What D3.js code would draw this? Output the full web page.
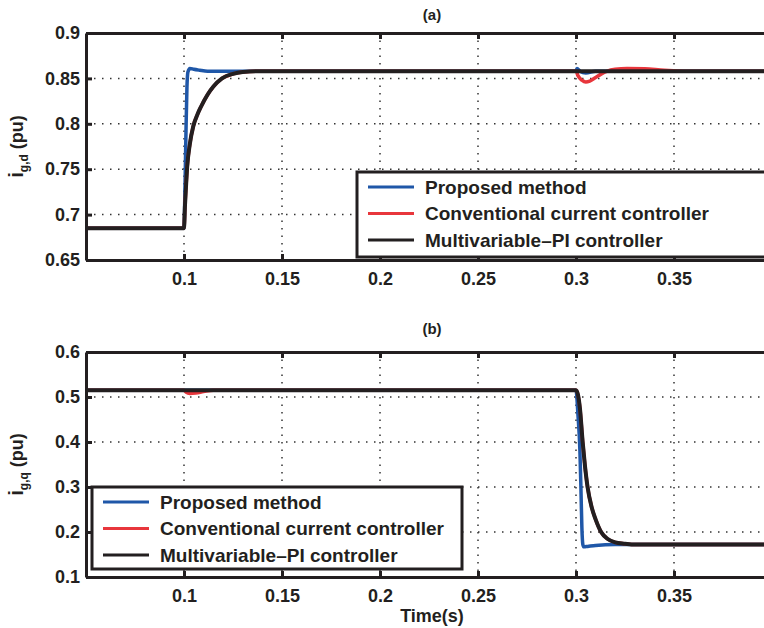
<!DOCTYPE html>
<html>
<head>
<meta charset="utf-8">
<script src="https://cdn.jsdelivr.net/npm/d3@7"></script>
<style>
  body { margin: 0; background: #fff; }
  svg text { font-family: "Liberation Sans", Arial, sans-serif; font-weight: bold; fill: #231f20; }
</style>
</head>
<body>
<script>
// ticks
var xTicks = [0.1, 0.15, 0.2, 0.25, 0.3, 0.35];
var yTicksA = [0.65, 0.7, 0.75, 0.8, 0.85, 0.9];
var yTicksB = [0.1, 0.2, 0.3, 0.4, 0.5, 0.6];
var seriesNames = ["Proposed method", "Conventional current controller", "Multivariable\u2013PI controller"];

// (a) i_g,d
var tBlueA = [0.05, 0.1, 0.1005, 0.101, 0.1015, 0.102, 0.103, 0.105, 0.108, 0.112, 0.12, 0.3, 0.3005, 0.302, 0.305, 0.31, 0.32, 0.4];
var vBlueA = [0.685, 0.685, 0.73, 0.79, 0.84, 0.857, 0.861, 0.860, 0.859, 0.858, 0.858, 0.858, 0.861, 0.858, 0.856, 0.858, 0.858, 0.858];
var tRedA = [0.05, 0.1, 0.1005, 0.101, 0.1016, 0.103, 0.1047, 0.107, 0.1086, 0.112, 0.115, 0.1194, 0.125, 0.13, 0.14, 0.3, 0.301, 0.303, 0.305, 0.307, 0.31, 0.313, 0.316, 0.32, 0.326, 0.335, 0.345, 0.355, 0.4];
var vRedA = [0.685, 0.685, 0.71, 0.73, 0.752, 0.778, 0.797, 0.811, 0.8185, 0.832, 0.841, 0.85, 0.855, 0.857, 0.858, 0.858, 0.853, 0.848, 0.846, 0.847, 0.851, 0.855, 0.858, 0.860, 0.861, 0.8605, 0.859, 0.858, 0.858];
var tBlackA = [0.05, 0.1, 0.1005, 0.101, 0.1016, 0.103, 0.1047, 0.107, 0.1086, 0.112, 0.115, 0.1194, 0.125, 0.13, 0.14, 0.4];
var vBlackA = [0.685, 0.685, 0.71, 0.73, 0.752, 0.778, 0.797, 0.811, 0.8185, 0.832, 0.841, 0.85, 0.855, 0.857, 0.858, 0.858];

// (b) i_g,q
var tBlueB = [0.05, 0.3, 0.301, 0.302, 0.3025, 0.303, 0.3035, 0.304, 0.306, 0.31, 0.32, 0.4];
var vBlueB = [0.515, 0.515, 0.46, 0.38, 0.30, 0.21, 0.172, 0.167, 0.168, 0.170, 0.172, 0.172];
var tRedB = [0.05, 0.1, 0.101, 0.103, 0.106, 0.11, 0.115, 0.3, 0.301, 0.302, 0.3034, 0.3045, 0.3059, 0.308, 0.31, 0.3128, 0.316, 0.32, 0.325, 0.33, 0.4];
var vRedB = [0.515, 0.515, 0.511, 0.508, 0.509, 0.512, 0.515, 0.515, 0.505, 0.475, 0.40, 0.35, 0.30, 0.255, 0.228, 0.20, 0.185, 0.177, 0.174, 0.172, 0.172];
var tBlackB = [0.05, 0.3, 0.301, 0.302, 0.3034, 0.3045, 0.3059, 0.308, 0.31, 0.3128, 0.316, 0.32, 0.325, 0.33, 0.4];
var vBlackB = [0.515, 0.515, 0.505, 0.475, 0.40, 0.35, 0.30, 0.255, 0.228, 0.20, 0.185, 0.177, 0.174, 0.172, 0.172];

var colors = ["#1f57a8", "#e8363c", "#231f20"];
var widths = [3.5, 3.5, 4];

var svgWidth = 764;
var svgHeight = 628;
var plotLeft = 86, plotRight = 772;

var svg = d3.select("body")
  .append("svg")
  .attr("width", svgWidth)
  .attr("height", svgHeight);

var x = d3.scaleLinear().domain([0.05, 0.4]).range([plotLeft, plotRight]);

function zip(t, v) {
  return t.map(function(d, i) { return [d, v[i]]; });
}

function drawPanel(id, top, bottom, yDomain, yTicks, series, legend, title, titleY, sub) {
  var y = d3.scaleLinear().domain(yDomain).range([bottom, top]);
  var g = svg.append("g");

  g.append("clipPath").attr("id", "clip" + id)
    .append("rect")
    .attr("x", plotLeft).attr("y", top)
    .attr("width", plotRight - plotLeft).attr("height", bottom - top);

  //grid
  g.append("g").selectAll("line")
    .data(xTicks).enter().append("line")
    .attr("x1", d => x(d)).attr("x2", d => x(d))
    .attr("y1", top).attr("y2", bottom)
    .attr("stroke", "#333").attr("stroke-width", 1.5)
    .attr("stroke-dasharray", "1.5,6");
  g.append("g").selectAll("line")
    .data(yTicks).enter().append("line")
    .attr("x1", plotLeft).attr("x2", plotRight)
    .attr("y1", d => y(d)).attr("y2", d => y(d))
    .attr("stroke", "#333").attr("stroke-width", 1.5)
    .attr("stroke-dasharray", "1.5,6.5");

  //lines
  var line = d3.line().curve(d3.curveMonotoneX).x(d => x(d[0])).y(d => y(d[1]));
  g.append("g").attr("clip-path", "url(#clip" + id + ")")
    .selectAll("path")
    .data(series).enter().append("path")
    .attr("d", d => line(d))
    .attr("fill", "none")
    .attr("stroke", (d, i) => colors[i])
    .attr("stroke-width", (d, i) => widths[i])
    .attr("stroke-linejoin", "round");

  //axes
  var axB = g.append("g")
    .attr("transform", `translate(0,${bottom})`)
    .call(d3.axisBottom(x).tickValues(xTicks).tickSize(-6).tickSizeOuter(0).tickPadding(12).tickFormat(d3.format("")));
  var axT = g.append("g")
    .attr("transform", `translate(0,${top})`)
    .call(d3.axisTop(x).tickValues(xTicks).tickSize(-6).tickSizeOuter(0).tickFormat(""));
  var axL = g.append("g")
    .attr("transform", `translate(${plotLeft},0)`)
    .call(d3.axisLeft(y).tickValues(yTicks).tickSize(-6).tickSizeOuter(0).tickPadding(6).tickFormat(d3.format("")));
  [axB, axT, axL].forEach(function(a) {
    a.attr("font-size", 18).attr("font-family", null);
    a.select(".domain").attr("stroke", "#231f20").attr("stroke-width", 3);
    a.selectAll(".tick line").attr("stroke", "#231f20").attr("stroke-width", 3);
    a.selectAll(".tick text").attr("fill", "#231f20");
  });

  //title
  g.append("text").attr("x", 432).attr("y", titleY)
    .attr("text-anchor", "middle").attr("font-size", 15).text(title);

  //y label
  var yl = g.append("text")
    .attr("transform", `translate(23,${(top + bottom) / 2}) rotate(-90)`)
    .attr("text-anchor", "middle")
    .attr("font-size", 18);
  yl.append("tspan").attr("font-size", 20).text("i");
  yl.append("tspan").attr("font-size", 12).attr("dy", 5).text(sub);
  yl.append("tspan").attr("dy", -5).text(" (pu)");

  //legend
  var lg = g.append("g");
  lg.append("rect")
    .attr("x", legend.x).attr("y", legend.y)
    .attr("width", legend.w).attr("height", legend.h)
    .attr("fill", "#fff").attr("stroke", "#231f20").attr("stroke-width", 3);
  seriesNames.forEach(function(name, i) {
    var ry = legend.y + 15 + i * 26.5;
    lg.append("line")
      .attr("x1", legend.x + 11).attr("x2", legend.x + 57)
      .attr("y1", ry).attr("y2", ry)
      .attr("stroke", colors[i]).attr("stroke-width", 3);
    lg.append("text")
      .attr("x", legend.x + 68).attr("y", ry).attr("dy", "0.36em")
      .attr("font-size", 19).text(name);
  });
}

drawPanel("a", 33, 260, [0.65, 0.9], yTicksA,
  [zip(tBlueA, vBlueA), zip(tRedA, vRedA), zip(tBlackA, vBlackA)],
  {x: 357, y: 172, w: 430, h: 85}, "(a)", 20, "g,d");

drawPanel("b", 352, 577, [0.1, 0.6], yTicksB,
  [zip(tBlueB, vBlueB), zip(tRedB, vRedB), zip(tBlackB, vBlackB)],
  {x: 92, y: 487, w: 370, h: 82}, "(b)", 334, "g,q");

//x label
svg.append("text").attr("x", 432).attr("y", 622)
  .attr("text-anchor", "middle").attr("font-size", 18).text("Time(s)");
</script>
</body>
</html>
